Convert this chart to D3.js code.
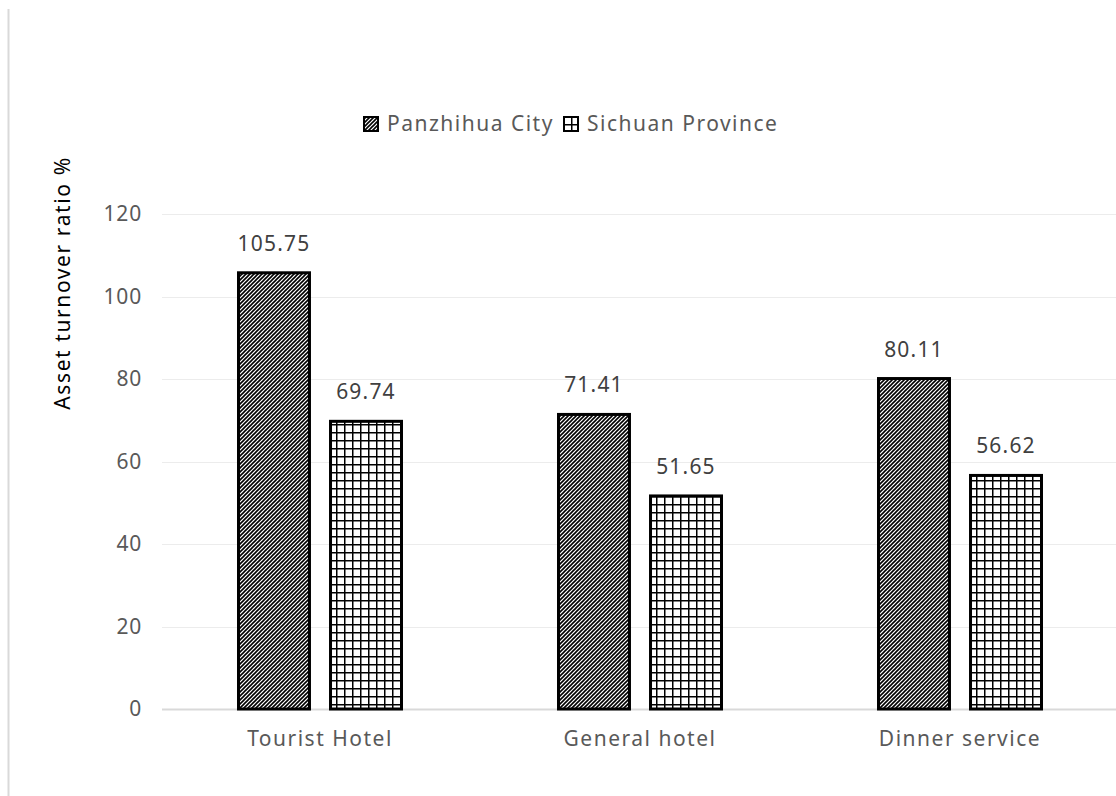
<!DOCTYPE html>
<html>
<head>
<meta charset="utf-8">
<script src="https://cdn.jsdelivr.net/npm/d3@7"></script>
<style>
	body { margin: 0; background: #fff; }
	svg { display: block; font-family: "Noto Sans", "Open Sans", sans-serif; }
</style>
</head>
<body>
<div id="chart"></div>
<script>
// chart data
const categories = ['Tourist Hotel', 'General hotel', 'Dinner service'];
const seriesNames = ['Panzhihua City', 'Sichuan Province'];
const panzhihuaValues = [105.75, 71.41, 80.11];
const sichuanValues = [69.74, 51.65, 56.62];
const yTicks = [0, 20, 40, 60, 80, 100, 120];

const width = 1116;
const height = 796;
const margin = { top: 214, right: -4, bottom: 87, left: 160 };

const svg = d3.select('#chart').append('svg')
	.attr('width', width)
	.attr('height', height);

// fill patterns: diagonal hatch and square grid
const defs = svg.append('defs');
const hatch = defs.append('pattern')
	.attr('id', 'hatch')
	.attr('patternUnits', 'userSpaceOnUse')
	.attr('width', 4)
	.attr('height', 4);
hatch.append('rect').attr('width', 4).attr('height', 4).attr('fill', '#fff');
hatch.append('path')
	.attr('d', 'M-1,1 l2,-2 M0,4 l4,-4 M3,5 l2,-2')
	.attr('stroke', '#000')
	.attr('stroke-width', 1.6);

const grid = defs.append('pattern')
	.attr('id', 'grid')
	.attr('patternUnits', 'userSpaceOnUse')
	.attr('width', 8)
	.attr('height', 8);
grid.append('rect').attr('width', 8).attr('height', 8).attr('fill', '#fff');
grid.append('path')
	.attr('d', 'M0,0.75 H8 M0.75,0 V8')
	.attr('stroke', '#000')
	.attr('stroke-width', 1.5);

const fills = ['url(#hatch)', 'url(#grid)'];

// outer chart border (only left edge visible)
svg.append('line')
	.attr('x1', 8.5).attr('x2', 8.5)
	.attr('y1', 9).attr('y2', height)
	.attr('stroke', '#d9d9d9')
	.attr('stroke-width', 2);

const x0 = d3.scaleBand()
	.domain(categories)
	.range([margin.left, width - margin.right]);

const x1 = d3.scaleBand()
	.domain(seriesNames)
	.range([77, 243])
	.paddingInner(0.196);

const y = d3.scaleLinear()
	.domain([0, 120])
	.range([height - margin.bottom, margin.top]);

// gridlines
svg.append('g')
	.selectAll('line')
	.data(yTicks)
	.join('line')
	.attr('x1', margin.left + 2)
	.attr('x2', width)
	.attr('y1', d => Math.round(y(d)) + 0.5)
	.attr('y2', d => Math.round(y(d)) + 0.5)
	.attr('stroke', d => d === 0 ? '#d9d9d9' : '#ececec')
	.attr('stroke-width', d => d === 0 ? 2 : 1);

// y axis labels
svg.append('g')
	.selectAll('text')
	.data(yTicks)
	.join('text')
	.attr('x', 142)
	.attr('y', d => y(d))
	.attr('dy', '0.35em')
	.attr('text-anchor', 'end')
	.attr('fill', '#595959')
	.attr('font-size', 21)
	.attr('letter-spacing', 0.8)
	.text(d => d);

// y axis title
svg.append('text')
	.attr('transform', 'translate(70, 283) rotate(-90)')
	.attr('text-anchor', 'middle')
	.attr('fill', '#000')
	.attr('font-size', 21)
	.attr('letter-spacing', 1.6)
	.text('Asset turnover ratio %');

// bars
const rows = categories.map((c, i) => ({
	category: c,
	values: [panzhihuaValues[i], sichuanValues[i]]
}));

const groups = svg.append('g')
	.selectAll('g')
	.data(rows)
	.join('g')
	.attr('transform', d => `translate(${x0(d.category)},0)`);

groups.selectAll('rect')
	.data(d => d.values.map((v, j) => ({ series: seriesNames[j], value: v, j })))
	.join('rect')
	.attr('x', d => x1(d.series) + 1.5)
	.attr('y', d => y(d.value))
	.attr('width', x1.bandwidth() - 3)
	.attr('height', d => y(0) - y(d.value))
	.attr('fill', d => fills[d.j])
	.attr('stroke', '#000')
	.attr('stroke-width', 3);

groups.selectAll('text.value')
	.data(d => d.values.map((v, j) => ({ series: seriesNames[j], value: v })))
	.join('text')
	.classed('value', true)
	.attr('x', d => x1(d.series) + x1.bandwidth() / 2)
	.attr('y', d => y(d.value) - 22)
	.attr('text-anchor', 'middle')
	.attr('fill', '#404040')
	.attr('font-size', 21)
	.attr('letter-spacing', 1.2)
	.text(d => d.value.toFixed(2));

// category labels
svg.append('g')
	.selectAll('text')
	.data(categories)
	.join('text')
	.attr('x', d => x0(d) + x0.bandwidth() / 2)
	.attr('y', 746)
	.attr('text-anchor', 'middle')
	.attr('fill', '#595959')
	.attr('font-size', 21)
	.attr('letter-spacing', 1.5)
	.text(d => d);

// legend
const legend = svg.append('g').attr('transform', 'translate(363, 124)');
const legendX = [0, 200];
seriesNames.forEach((name, i) => {
	const g = legend.append('g').attr('transform', `translate(${legendX[i]},0)`);
	g.append('rect')
		.attr('x', 1)
		.attr('y', -7)
		.attr('width', 14)
		.attr('height', 14)
		.attr('fill', fills[i])
		.attr('stroke', '#000')
		.attr('stroke-width', 2);
	g.append('text')
		.attr('x', 24)
		.attr('y', 0)
		.attr('dy', '0.35em')
		.attr('fill', '#595959')
		.attr('font-size', 21)
		.attr('letter-spacing', 1.5)
		.text(name);
});
</script>
</body>
</html>
